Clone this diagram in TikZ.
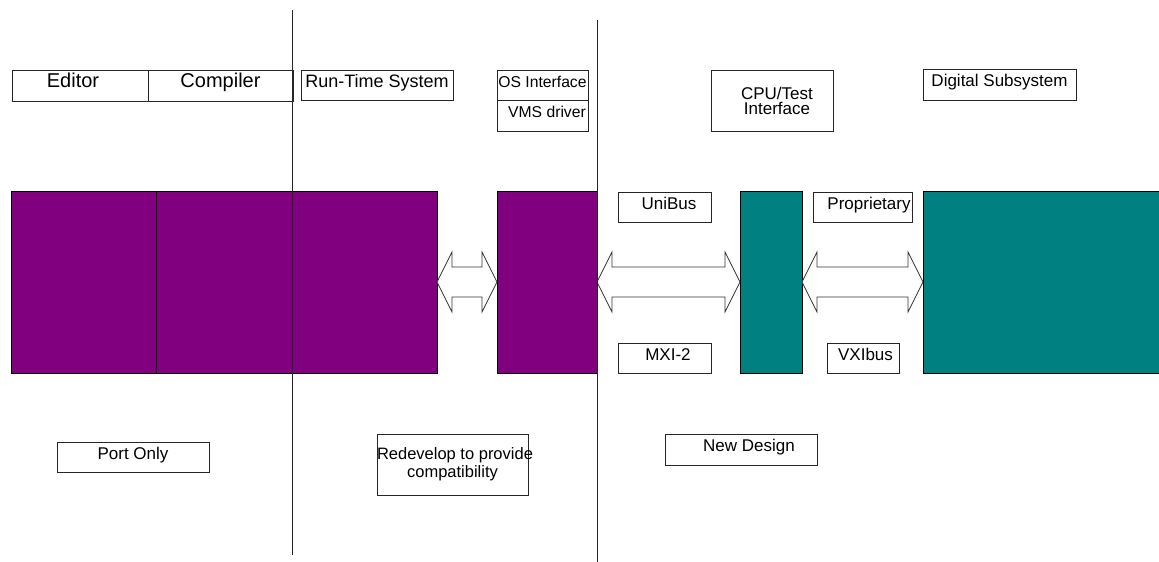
\documentclass[tikz,border=0pt]{standalone}
\usepackage{fontspec}
\setmainfont{Liberation Sans}
\usetikzlibrary{calc}
\definecolor{purp}{HTML}{800080}
\definecolor{tealc}{HTML}{008080}
\newcommand{\blockarrow}[2]{%
  \draw[busarrow] let \p1=(#1.east), \p2=(#2.west) in
    (\x1,\y1) -- (\x1+15pt,\y1+30pt) -- (\x1+15pt,\y1+15pt) -- (\x2-15pt,\y1+15pt)
    -- (\x2-15pt,\y1+30pt) -- (\x2,\y1) -- (\x2-15pt,\y1-30pt) -- (\x2-15pt,\y1-15pt)
    -- (\x1+15pt,\y1-15pt) -- (\x1+15pt,\y1-30pt) -- cycle;}
\begin{document}
\begin{tikzpicture}[x=1pt,y=-1pt,
  box/.style={draw=black!85, line width=0.8pt, fill=white, inner sep=0pt, outer sep=0pt,
    anchor=north west, align=center, font=\fontsize{17}{15}\selectfont},
  one/.style={text height=0.75em, text depth=0.35em},
  blockP/.style={draw=black, line width=0.8pt, fill=purp, inner sep=0pt, outer sep=0pt, anchor=north west},
  blockT/.style={draw=black, line width=0.8pt, fill=tealc, inner sep=0pt, outer sep=0pt, anchor=north west},
  divider/.style={draw=black!85, line width=0.9pt},
  busarrow/.style={draw=black!80, line width=0.7pt, fill=white, line join=miter}]
\useasboundingbox (0,0) rectangle (1159,562);

% top labels
\node[box, one, font=\fontsize{20}{22}\selectfont, minimum width=136pt, minimum height=31pt] (editor) at (12,70) {Editor\hspace*{14pt}};
\node[box, one, font=\fontsize{20}{22}\selectfont, minimum width=145pt, minimum height=31pt] (compiler) at (148,70) {Compiler};
\node[box, one, font=\fontsize{18}{20}\selectfont, minimum width=152pt, minimum height=30pt] (runtime) at (301,70) {Run-Time System};
\node[box, one, font=\fontsize{15.7}{18}\selectfont, minimum width=91pt, minimum height=30pt] (osif) at (497,70) {OS Interface};
\node[box, one, font=\fontsize{15.7}{18}\selectfont, minimum width=91pt, minimum height=31pt] (vms) at (497,100) {\hspace*{9pt}VMS driver};
\node[box, minimum width=122pt, minimum height=61pt] (cpu) at (711,70) {\hspace*{10pt}CPU/Test\\\hspace*{10pt}Interface};
\node[box, one, minimum width=153pt, minimum height=31pt] (digital) at (923,69) {Digital Subsystem};

% main blocks
\node[blockP, minimum width=145pt, minimum height=182pt] (p1) at (11,191) {};
\node[blockP, minimum width=136pt, minimum height=182pt] (p2) at (156,191) {};
\node[blockP, minimum width=145pt, minimum height=182pt] (p3) at (292,191) {};
\node[blockP, minimum width=100pt, minimum height=182pt] (p4) at (497,191) {};
\node[blockT, minimum width=62pt, minimum height=182pt] (t1) at (740,191) {};
\node[blockT, minimum width=245pt, minimum height=182pt] (t2) at (923,191) {};

% bus labels
\node[box, one, minimum width=93pt, minimum height=30pt] (unibus) at (618,192) {\hspace*{9pt}UniBus};
\node[box, one, minimum width=93pt, minimum height=30pt] (mxi) at (618,343) {\hspace*{7pt}MXI-2};
\node[box, one, minimum width=99pt, minimum height=30pt] (prop) at (813,192) {\hspace*{13pt}Proprietary};
\node[box, one, minimum width=72pt, minimum height=30pt] (vxi) at (827,343) {\hspace*{5pt}VXIbus};

% block arrows
\blockarrow{p3}{p4}
\blockarrow{p4}{t1}
\blockarrow{t1}{t2}

% bottom labels
\node[box, one, minimum width=152pt, minimum height=30pt] (port) at (57,442) {Port Only};
\node[box, font=\fontsize{16.5}{18}\selectfont, minimum width=151pt, minimum height=61pt] (redev) at (377,434)
  {\makebox[0pt]{\hspace*{5pt}Redevelop to provide}\\\makebox[0pt]{compatibility}};
\node[box, one, minimum width=152pt, minimum height=31pt] (newdes) at (665,434) {\hspace*{16pt}New Design};

% dividing lines
\draw[divider] (292,10) -- (292,555);
\draw[divider] (597,20) -- (597,562);
\end{tikzpicture}
\end{document}
